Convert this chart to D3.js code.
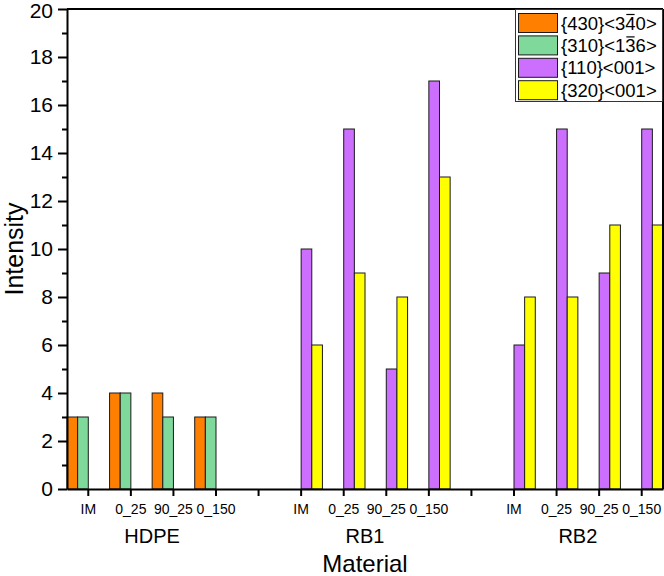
<!DOCTYPE html>
<html>
<head>
<meta charset="utf-8">
<script src="https://cdn.jsdelivr.net/npm/d3@7"></script>
<style>
  html, body { margin: 0; padding: 0; background: #fff; }
  svg { display: block; font-family: "Liberation Sans", Arial, sans-serif; }
</style>
</head>
<body>
<svg id="chart" width="664" height="576"></svg>
<script>
// ---- data ----
const categories = ["IM","0_25","90_25","0_150","","IM","0_25","90_25","0_150","","IM","0_25","90_25","0_150"];
const groupOf    = ["HDPE","HDPE","HDPE","HDPE","","RB1","RB1","RB1","RB1","","RB2","RB2","RB2","RB2"];
const groupNames = ["HDPE","RB1","RB2"];
const seriesLabels = ["{430}<340>","{310}<136>","{110}<001>","{320}<001>"];
const overlineChar = [7, 7, null, null];
const seriesColors = ["#FF7F00","#7FD99B","#CC6FFF","#FFFF00"];
const s430 = [3,4,4,3,null,null,null,null,null,null,null,null,null,null];
const s310 = [3,4,3,3,null,null,null,null,null,null,null,null,null,null];
const s110 = [null,null,null,null,null,10,15,5,17,null,6,15,9,15];
const s320 = [null,null,null,null,null,6,9,8,13,null,8,8,11,11];
const seriesValues = [s430, s310, s110, s320];
const yMajorTicks = [0,2,4,6,8,10,12,14,16,18,20];
const yMinorTicks = [1,3,5,7,9,11,13,15,17,19];

// ---- layout ----
const svg = d3.select("#chart");
const L = 67, R = 663, T = 9, B = 489;

const x = d3.scaleBand().domain(d3.range(categories.length)).range([L, R]).padding(0);
const sub = d3.scaleBand().domain(d3.range(seriesValues.length)).range([0, x.bandwidth()]).padding(0);
const y = d3.scaleLinear().domain([0, 20]).range([B, T]);

// bars
seriesValues.forEach((vals, si) => {
  svg.append("g").selectAll("rect")
    .data(vals.map((v, i) => ({v, i})).filter(d => d.v != null))
    .join("rect")
    .attr("x", d => x(d.i) + sub(si))
    .attr("y", d => y(d.v))
    .attr("width", sub.bandwidth())
    .attr("height", d => y(0) - y(d.v))
    .attr("fill", seriesColors[si])
    .attr("stroke", "#1a1a1a")
    .attr("stroke-width", 1);
});

// frame (top/right)
svg.append("line").attr("x1", L).attr("x2", R).attr("y1", T).attr("y2", T)
  .attr("stroke", "#000").attr("stroke-width", 2);
svg.append("line").attr("x1", R).attr("x2", R).attr("y1", T).attr("y2", B)
  .attr("stroke", "#000").attr("stroke-width", 2);

// y axis
const yAxis = d3.axisLeft(y).tickValues(yMajorTicks).tickSize(9).tickPadding(5).tickSizeOuter(0);
const gy = svg.append("g").attr("transform", `translate(${L},0)`).call(yAxis);
gy.select(".domain").attr("stroke-width", 2);
gy.selectAll(".tick line").attr("stroke-width", 2);
gy.selectAll(".tick text").attr("font-size", 21).attr("font-family", "Liberation Sans, Arial, sans-serif").attr("fill", "#000");
// keep the topmost label fully inside the picture
gy.selectAll(".tick text").filter(d => d === 20).attr("dy", "0.42em");
const yMinor = d3.axisLeft(y).tickValues(yMinorTicks).tickSize(5).tickFormat("").tickSizeOuter(0);
const gym = svg.append("g").attr("transform", `translate(${L},0)`).call(yMinor);
gym.select(".domain").remove();
gym.selectAll(".tick line").attr("stroke-width", 2);

// x axis
const xAxis = d3.axisBottom(x).tickSize(7).tickPadding(8).tickSizeOuter(0).tickFormat(i => categories[i]);
const gx = svg.append("g").attr("transform", `translate(0,${B})`).call(xAxis);
gx.select(".domain").attr("stroke-width", 2);
gx.selectAll(".tick line").attr("stroke-width", 2);
gx.selectAll(".tick text").attr("font-size", 14).attr("font-family", "Liberation Sans, Arial, sans-serif").attr("fill", "#000");

// group labels
groupNames.forEach(g => {
  const idx = groupOf.map((d, i) => d === g ? i : -1).filter(i => i >= 0);
  const cx = (x(idx[0]) + x(idx[idx.length - 1])) / 2 + x.bandwidth() / 2;
  svg.append("text").attr("x", cx).attr("y", 543).attr("text-anchor", "middle")
    .attr("font-size", 20).text(g);
});

// axis titles
svg.append("text").attr("x", (L + R) / 2).attr("y", 572).attr("text-anchor", "middle")
  .attr("font-size", 24).text("Material");
svg.append("text").attr("transform", `translate(23,${(T + B) / 2}) rotate(-90)`)
  .attr("text-anchor", "middle").attr("font-size", 25).text("Intensity");

// legend
const lg = svg.append("g");
lg.append("rect").attr("x", 515.5).attr("y", 9.5).attr("width", 147).attr("height", 92)
  .attr("fill", "#fff").attr("stroke", "#333").attr("stroke-width", 1);
seriesLabels.forEach((lab, i) => {
  const ry = 13 + i * 22.4;
  lg.append("rect").attr("x", 518.5).attr("y", ry + 0.5).attr("width", 39).attr("height", 19)
    .attr("fill", seriesColors[i]).attr("stroke", "#1a1a1a").attr("stroke-width", 1);
  const t = lg.append("text").attr("x", 561).attr("y", ry + 16.5).attr("font-size", 18.5).text(lab);
  if (overlineChar[i] != null) {
    const node = t.node();
    const s = node.getStartPositionOfChar(overlineChar[i]);
    const e = node.getEndPositionOfChar(overlineChar[i]);
    lg.append("line").attr("x1", s.x + 1).attr("x2", e.x - 1)
      .attr("y1", ry + 1.5).attr("y2", ry + 1.5)
      .attr("stroke", "#000").attr("stroke-width", 1.2);
  }
});
</script>
</body>
</html>
